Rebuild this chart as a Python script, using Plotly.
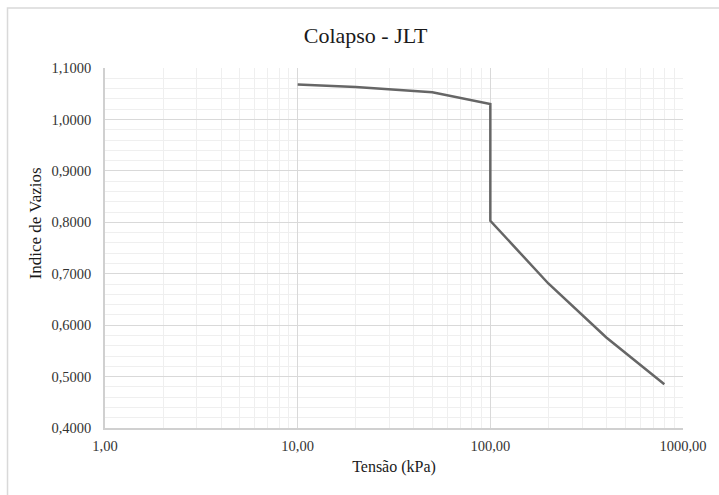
import plotly.graph_objects as go

tensao = [10, 20, 50, 100, 100, 200, 400, 800]
indice_vazios = [1.068, 1.063, 1.053, 1.030, 0.803, 0.681, 0.576, 0.485]

x_tickvals = [1, 10, 100, 1000]
x_ticktext = ["1,00", "10,00", "100,00", "1000,00"]
y_tickvals = [0.4, 0.5, 0.6, 0.7, 0.8, 0.9, 1.0, 1.1]
y_ticktext = ["0,4000", "0,5000", "0,6000", "0,7000", "0,8000", "0,9000", "1,0000", "1,1000"]
x_minor = [m * d for d in (1, 10, 100) for m in range(2, 10)]

SERIF = "Liberation Serif, Times New Roman, serif"

fig = go.Figure()
fig.add_trace(go.Scatter(
    x=tensao, y=indice_vazios, mode="lines",
    line=dict(color="#666666", width=2.5),
    showlegend=False, hoverinfo="x+y",
))

L, R, T, B = 105, 33, 68, 67
W, H = 719, 495
pw, ph = W - L - R, H - T - B

fig.update_layout(
    width=W, height=H,
    margin=dict(l=L, r=R, t=T, b=B),
    paper_bgcolor="white", plot_bgcolor="white",
    title=dict(text="Colapso - JLT", x=(367 - L) / pw, xref="paper", xanchor="center",
               y=1 - 35 / H, yanchor="middle",
               font=dict(family=SERIF, size=22, color="#1a1a1a")),
    font=dict(family=SERIF, size=14.5, color="#333333"),
    xaxis=dict(
        type="log", range=[0, 3],
        tickvals=x_tickvals, ticktext=x_ticktext,
        showgrid=True, gridcolor="#d9d9d9", gridwidth=1,
        minor=dict(tickvals=x_minor, showgrid=True, gridcolor="#efefef", gridwidth=1, ticks=""),
        showline=True, linecolor="#d0d0d0", linewidth=1.5, mirror=False,
        zeroline=False, ticks="", ticklabelstandoff=4,
        title=dict(text="Tensão (kPa)", font=dict(family=SERIF, size=16, color="#1a1a1a"), standoff=8),
    ),
    yaxis=dict(
        range=[0.4, 1.1],
        tickvals=y_tickvals, ticktext=y_ticktext,
        showgrid=True, gridcolor="#d9d9d9", gridwidth=1,
        minor=dict(dtick=0.02, showgrid=True, gridcolor="#efefef", gridwidth=1, ticks=""),
        showline=True, linecolor="#d0d0d0", linewidth=1.5,
        zeroline=False, ticks="", ticklabelstandoff=9,
    ),
)

# y-axis title placed as in the reference (slightly above plot centre)
fig.add_annotation(text="Indice de Vazios", textangle=-90, showarrow=False,
                   xref="paper", yref="paper",
                   x=(35 - L) / pw, y=(H - B - 223) / ph,
                   xanchor="center", yanchor="middle",
                   font=dict(family=SERIF, size=17, color="#1a1a1a"))

# outer chart border
fig.add_shape(type="rect", xref="paper", yref="paper",
              x0=(7 - L) / pw, x1=(730 - L) / pw,
              y0=(H - B - 505) / ph, y1=(H - B - 8) / ph,
              line=dict(color="#d9d9d9", width=1.5), fillcolor="rgba(0,0,0,0)", layer="below")

fig.write_html("out.html", config={"displayModeBar": False},
               post_script="document.body.style.margin='0';document.body.style.overflow='hidden';")
